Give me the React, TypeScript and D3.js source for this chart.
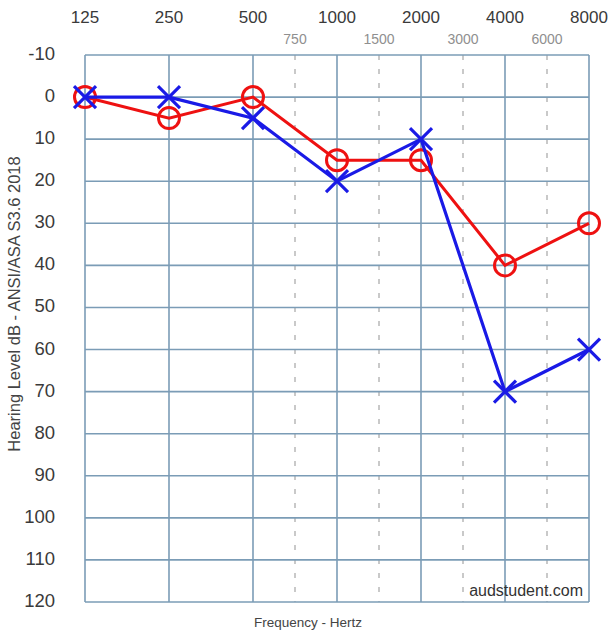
import React from "react";
import * as d3 from "d3";

const octaveFreqs = ["125", "250", "500", "1000", "2000", "4000", "8000"];
const interFreqs = ["750", "1500", "3000", "6000"];
const hlTicks = [-10, 0, 10, 20, 30, 40, 50, 60, 70, 80, 90, 100, 110, 120];
const rightEar = [0, 5, 0, 15, 15, 40, 30];
const leftEar = [0, 0, 5, 20, 10, 70, 60];

const W = 609;
const H = 636;
const M = { left: 85, right: 589, top: 55, bottom: 602 };
const gridColor = "#7b9cb6";
const font = "Liberation Sans, Arial, sans-serif";

export default function App() {
  const x = d3.scaleLinear().domain([0, octaveFreqs.length - 1]).range([M.left, M.right]);
  const y = d3.scaleLinear().domain([-10, 120]).range([M.top, M.bottom]);
  const line = d3
    .line<number>()
    .x((_, i) => x(i))
    .y((d) => y(d));

  return (
    <svg
      width={W}
      height={H}
      style={{ position: "absolute", left: 0, top: 0, background: "#fff" }}
      fontFamily={font}
    >
      <rect x={0} y={0} width={W} height={H} fill="#fff" />
      {/* interoctave dashed lines */}
      {interFreqs.map((f, i) => (
        <line
          key={"d" + f}
          x1={x(i + 2.5)}
          x2={x(i + 2.5)}
          y1={M.top}
          y2={M.bottom}
          stroke="#b8b8b8"
          strokeWidth={1.5}
          strokeDasharray="5,9"
        />
      ))}
      {/* horizontal grid */}
      {hlTicks.map((t) => (
        <line
          key={"h" + t}
          x1={M.left}
          x2={M.right}
          y1={y(t)}
          y2={y(t)}
          stroke={gridColor}
          strokeWidth={1.6}
        />
      ))}
      {/* vertical grid */}
      {octaveFreqs.map((f, i) => (
        <line
          key={"v" + f}
          x1={x(i)}
          x2={x(i)}
          y1={M.top}
          y2={M.bottom}
          stroke={gridColor}
          strokeWidth={1.6}
        />
      ))}
      {/* top labels */}
      {octaveFreqs.map((f, i) => (
        <text
          key={"t" + f}
          x={x(i)}
          y={23}
          textAnchor="middle"
          fontSize={17}
          fill="#3a3a3a"
        >
          {f}
        </text>
      ))}
      {interFreqs.map((f, i) => (
        <text
          key={"s" + f}
          x={x(i + 2.5)}
          y={44}
          textAnchor="middle"
          fontSize={14}
          fill="#8f8f8f"
        >
          {f}
        </text>
      ))}
      {/* y labels */}
      {hlTicks.map((t) => (
        <text
          key={"y" + t}
          x={55}
          y={y(t) + 5}
          textAnchor="end"
          fontSize={18.5}
          fill="#3a3a3a"
        >
          {t}
        </text>
      ))}
      {/* axis titles */}
      <text
        transform={`translate(20,304) rotate(-90)`}
        textAnchor="middle"
        fontSize={16.5}
        fill="#444"
      >
        Hearing Level dB - ANSI/ASA S3.6 2018
      </text>
      <text x={254} y={627} fontSize={13.5} fill="#444">
        Frequency - Hertz
      </text>
      <text x={583} y={596} textAnchor="end" fontSize={16} fill="#333">
        audstudent.com
      </text>
      {/* right ear */}
      <path d={line(rightEar) || ""} fill="none" stroke="#ee1111" strokeWidth={3} />
      {rightEar.map((v, i) => (
        <circle
          key={"r" + i}
          cx={x(i)}
          cy={y(v)}
          r={10.5}
          fill="none"
          stroke="#ee1111"
          strokeWidth={3}
        />
      ))}
      {/* left ear */}
      <path d={line(leftEar) || ""} fill="none" stroke="#1a1ae6" strokeWidth={3.2} />
      {leftEar.map((v, i) => (
        <g key={"l" + i} stroke="#1a1ae6" strokeWidth={3.2}>
          <line x1={x(i) - 11} y1={y(v) - 11} x2={x(i) + 11} y2={y(v) + 11} />
          <line x1={x(i) - 11} y1={y(v) + 11} x2={x(i) + 11} y2={y(v) - 11} />
        </g>
      ))}
    </svg>
  );
}
